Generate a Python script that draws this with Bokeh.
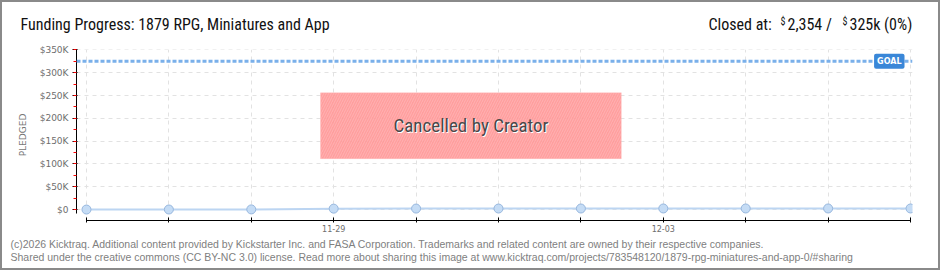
from bokeh.plotting import figure
from bokeh.layouts import column, row
from bokeh.models import (Span, Label, BoxAnnotation, FixedTicker, SingleIntervalTicker,
                          ColumnDataSource, Range1d)
from bokeh.embed import file_html
from bokeh.resources import INLINE

# ---- data ----
dates = ["11-26", "11-27", "11-28", "11-29", "11-30", "12-01",
         "12-02", "12-03", "12-04", "12-05", "12-06"]
pledged = [0, 120, 310, 1985, 2150, 2240, 2290, 2354, 2354, 2354, 2354]
shown_dates = ["11-29", "12-03"]
goal = 325000
y_ticks = [0, 50000, 100000, 150000, 200000, 250000, 300000, 350000]
y_labels = ["$0", "$50K", "$100K", "$150K", "$200K", "$250K", "$300K", "$350K"]
title_text = "Funding Progress: 1879 RPG, Miniatures and App"
status_parts = ["Closed at:", "$", "2,354 /", "$", "325k (0%)"]
cancel_text = "Cancelled by Creator"
cancel_box = (2.84, 6.49, 111600, 256000)  # left, right, bottom, top (data)
footer1 = ("(c)2026 Kicktraq. Additional content provided by Kickstarter Inc. and FASA Corporation. "
           "Trademarks and related content are owned by their respective companies.")
footer2 = ("Shared under the creative commons (CC BY-NC 3.0) license. Read more about sharing this image at "
           "www.kicktraq.com/projects/783548120/1879-rpg-miniatures-and-app-0/#sharing")

idx = list(range(len(dates)))
src = ColumnDataSource(dict(x=idx, y=pledged))

COND = "Liberation Sans Narrow, Roboto Condensed, DejaVu Sans Condensed, sans-serif"
W = 936
FL, FR = 74, 910   # main frame edges


def text_strip(h):
    f = figure(width=W, height=h, output_backend="svg", toolbar_location=None,
               x_range=Range1d(0, W), y_range=Range1d(h, 0),
               min_border_left=0, min_border_right=0,
               min_border_top=0, min_border_bottom=0,
               frame_width=W, frame_height=h)
    f.axis.visible = False
    f.grid.visible = False
    f.outline_line_color = None
    f.background_fill_color = "white"
    f.border_fill_color = "white"
    return f


# ---- header ----
head = text_strip(35)
head.add_layout(Label(x=18, y=22, text=title_text, text_baseline="middle",
                      text_color="#111111", text_font=COND, text_font_size="16px"))
status_x = [706, 778, 785, 840, 847]
for txt, sx in zip(status_parts, status_x):
    small = txt == "$"
    head.add_layout(Label(x=sx, y=19 if small else 22, text=txt, text_baseline="middle",
                          text_color="#111111", text_font=COND,
                          text_font_size="10px" if small else "16px"))

# ---- main chart ----
p = figure(width=W, height=199, output_backend="svg", toolbar_location=None,
           x_range=Range1d(-0.121, 10.024), y_range=Range1d(-24000, 351000),
           min_border_left=FL, min_border_right=W - FR, min_border_top=12, min_border_bottom=16,
           frame_width=FR - FL, frame_height=171)
p.background_fill_color = "white"
p.border_fill_color = "white"
p.outline_line_color = None

p.xgrid.ticker = FixedTicker(ticks=idx)
p.ygrid.ticker = FixedTicker(ticks=y_ticks)
for g in (p.xgrid, p.ygrid):
    g.grid_line_color = "#e2e2e2"
    g.grid_line_dash = "4 4"
    g.grid_line_width = 1

ya = p.yaxis[0]
ya.ticker = SingleIntervalTicker(interval=50000, num_minor_ticks=2)
ya.major_label_overrides = {t: l for t, l in zip(y_ticks, y_labels)}
ya.bounds = (-8000, 350000)
ya.axis_line_color = "black"
ya.major_tick_line_color = "black"
ya.major_tick_out = 4
ya.major_tick_in = 1
ya.minor_tick_line_color = "red"
ya.minor_tick_out = 3
ya.minor_tick_in = 0
ya.major_label_text_color = "#6e6e6e"
ya.major_label_text_font = "DejaVu Sans"
ya.major_label_text_font_size = "9px"
ya.major_label_standoff = 4
ya.axis_label = "PLEDGED"
ya.axis_label_text_font = "DejaVu Sans"
ya.axis_label_text_font_size = "9px"
ya.axis_label_text_font_style = "normal"
ya.axis_label_text_color = "#777777"
ya.axis_label_standoff = 9

xa = p.xaxis[0]
xa.ticker = FixedTicker(ticks=idx)
xa.major_label_overrides = {i: (d if d in shown_dates else "") for i, d in zip(idx, dates)}
xa.bounds = (0, len(dates) - 1)
xa.axis_line_color = "black"
xa.major_tick_line_color = "black"
xa.major_tick_in = 3
xa.major_tick_out = 2
xa.minor_tick_line_color = None
xa.major_label_text_color = "#6e6e6e"
xa.major_label_text_font = "DejaVu Sans"
xa.major_label_text_font_size = "8px"
xa.major_label_standoff = 2

p.add_layout(Span(location=goal, dimension="width", line_color="#7ab0ea",
                  line_width=3, line_dash="4 2"))
p.add_layout(Label(x=idx[-1], y=goal, text="GOAL", x_offset=-6, text_align="right",
                   text_baseline="middle", text_color="white", text_font_size="8px",
                   text_font="DejaVu Sans", text_font_style="bold",
                   background_fill_color="#3a87d8", padding=3, border_radius=2))

p.add_layout(BoxAnnotation(left=cancel_box[0], right=cancel_box[1],
                           bottom=cancel_box[2], top=cancel_box[3],
                           fill_color="#ff9393", fill_alpha=0.9,
                           line_color="#ffb4b4", line_width=1,
                           hatch_pattern="/", hatch_color="white", hatch_alpha=0.2,
                           hatch_scale=5, hatch_weight=1))
cx = (cancel_box[0] + cancel_box[1]) / 2
cy = (cancel_box[2] + cancel_box[3]) / 2
p.add_layout(Label(x=cx, y=cy, text=cancel_text, x_offset=1, y_offset=-1,
                   text_align="center", text_baseline="middle", text_color="white",
                   text_font=COND, text_font_size="19px"))
p.add_layout(Label(x=cx, y=cy, text=cancel_text,
                   text_align="center", text_baseline="middle", text_color="#484848",
                   text_font=COND, text_font_size="19px"))

p.line("x", "y", source=src, line_color="#bcd5f2", line_width=2)
p.scatter("x", "y", source=src, size=9, fill_color="#c5dcf5", line_color="#97b7de",
          line_width=1)

# ---- footer ----
foot = text_strip(32)
foot.add_layout(Label(x=8, y=7, text=footer1, text_baseline="middle",
                      text_color="#808080", text_font="Liberation Sans", text_font_size="10.5px"))
foot.add_layout(Label(x=8, y=20, text=footer2, text_baseline="middle",
                      text_color="#808080", text_font="Liberation Sans", text_font_size="10.5px"))

page = column(row(head), p, row(foot), spacing=0,
              styles={"border": "2px solid #8a8a8a", "background-color": "white"})

open("out.html", "w").write(file_html(page, INLINE))
